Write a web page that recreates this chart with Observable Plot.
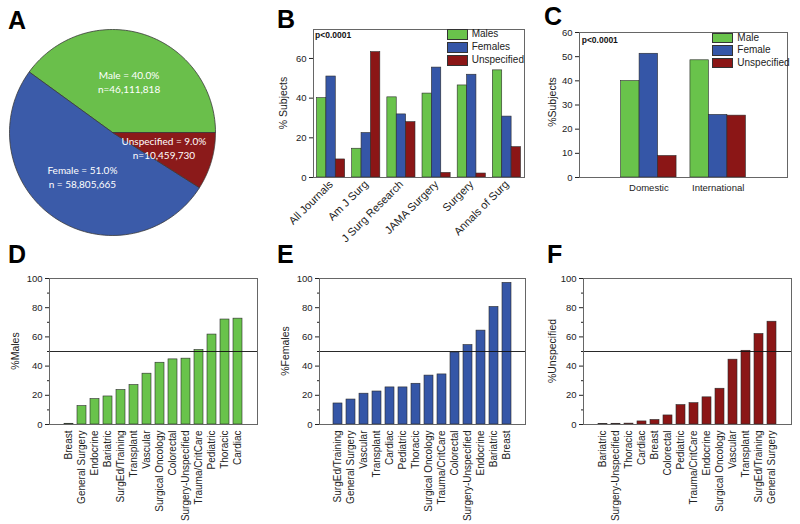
<!DOCTYPE html>
<html>
<head>
<meta charset="utf-8">
<script src="https://cdn.jsdelivr.net/npm/d3@7"></script>
<script src="https://cdn.jsdelivr.net/npm/@observablehq/plot@0.6"></script>
<style>
  body { margin: 0; background: #fff; }
  #root { position: relative; width: 800px; height: 524px; overflow: hidden; background: #fff;
          font-family: "Liberation Sans", Arial, sans-serif; color: #222; }
  .letter { position: absolute; font-weight: bold; font-size: 25px; line-height: 1; color: #000; }
  .ylab { position: absolute; font-size: 10.5px; line-height: 1; white-space: nowrap;
          transform: translate(-50%, -50%) rotate(-90deg); }
  .pval { position: absolute; font-weight: bold; font-size: 8.5px; line-height: 1; color: #111; }
  .lgbox { position: absolute; box-sizing: border-box; border: 0.8px solid #333; }
  .lgtxt { position: absolute; font-size: 10px; white-space: nowrap; color: #222; }
</style>
</head>
<body>
<div id="root"></div>
<script>
// ---------------- data ----------------
const pieLabels = ["Male", "Female", "Unspecified"];
const pieShares = [40.0, 51.0, 9.0];
const pieCountText = ["n=46,111,818", "n = 58,805,665", "n=10,459,730"];
const pieColors = ["#6abf4b", "#3b5ba9", "#8b1a1a"];

const journals = ["All Journals", "Am J Surg", "J Surg Research", "JAMA Surgery", "Surgery", "Annals of Surg"];
const journalSeries = ["Males", "Females", "Unspecified"];
const journalMales = [40.0, 14.5, 40.4, 42.3, 46.4, 54.0];
const journalFemales = [50.9, 22.4, 31.8, 55.4, 51.8, 30.7];
const journalUnspecified = [9.1, 63.2, 27.9, 2.3, 2.0, 15.3];

const origins = ["Domestic", "International"];
const originSeries = ["Male", "Female", "Unspecified"];
const originMale = [39.9, 48.5];
const originFemale = [51.2, 25.9];
const originUnspecified = [8.9, 25.6];

const maleSpecialties = ["Breast", "General Surgery", "Endocrine", "Bariatric", "SurgEd/Training", "Transplant", "Vascular", "Surgical Oncology", "Colorectal", "Surgery-Unspecified", "Trauma/CritCare", "Pediatric", "Thoracic", "Cardiac"];
const maleValues = [0.5, 12.6, 17.4, 19.2, 23.6, 27.0, 34.8, 42.3, 44.6, 45.1, 51.0, 61.6, 71.9, 72.5];

const femaleSpecialties = ["SurgEd/Training", "General Surgery", "Vascular", "Transplant", "Cardiac", "Pediatric", "Thoracic", "Surgical Oncology", "Trauma/CritCare", "Colorectal", "Surgery-Unspecified", "Endocrine", "Bariatric", "Breast"];
const femaleValues = [14.4, 17.1, 21.1, 22.6, 25.4, 25.4, 27.9, 33.5, 34.3, 49.3, 54.4, 64.3, 80.5, 97.0];

const unspecSpecialties = ["Bariatric", "Surgery-Unspecified", "Thoracic", "Cardiac", "Breast", "Colorectal", "Pediatric", "Trauma/CritCare", "Endocrine", "Surgical Oncology", "Vascular", "Transplant", "SurgEd/Training", "General Surgery"];
const unspecValues = [0.3, 0.5, 0.6, 2.1, 3.1, 6.2, 13.3, 14.6, 18.6, 24.5, 44.4, 50.5, 62.0, 70.4];

const barColors = ["#69c34b", "#3556a7", "#8b1616"];
const pText = "p<0.0001";
const refLine = 50;

// ---------------- helpers ----------------
const root = document.getElementById("root");
const FONT = '"Liberation Sans", Arial, sans-serif';

function mount(svg, left, top) {
  svg.style.position = "absolute";
  svg.style.left = left + "px";
  svg.style.top = top + "px";
  svg.style.background = "transparent";
  svg.style.overflow = "visible";
  svg.style.maxWidth = "none";
  root.appendChild(svg);
}
function div(cls, text, css) {
  const el = document.createElement("div");
  el.className = cls;
  if (text != null) el.textContent = text;
  Object.assign(el.style, css);
  root.appendChild(el);
  return el;
}
function legend(names, colors, boxLeft, top, rowStep, textLeft) {
  names.forEach((n, i) => {
    div("lgbox", null, {left: boxLeft + "px", top: (top + i * rowStep) + "px", width: "21.5px", height: "10.8px", background: colors[i]});
    div("lgtxt", n, {left: textLeft + "px", top: (top + i * rowStep) + "px", lineHeight: "10.8px"});
  });
}

// ---------------- A: pie ----------------
const arcs = d3.pie().sort(null).startAngle(Math.PI / 2).endAngle(Math.PI / 2 - 2 * Math.PI)(pieShares);
const piePts = [];
const pieText = [];
arcs.forEach((a, i) => {
  const N = 80;
  piePts.push({label: pieLabels[i], x: 0, y: 0});
  for (let k = 0; k <= N; k++) {
    const t = a.startAngle + (a.endAngle - a.startAngle) * k / N;
    piePts.push({label: pieLabels[i], x: Math.sin(t), y: Math.cos(t)});
  }
  piePts.push({label: pieLabels[i], x: 0, y: 0});
  const mid = (a.startAngle + a.endAngle) / 2;
  const r = 0.52;
  pieText.push({x: r * Math.sin(mid), y: r * Math.cos(mid),
    text: `${pieLabels[i]} = ${pieShares[i].toFixed(1)}%\n${pieCountText[i]}`});
});
mount(Plot.plot({
  width: 230, height: 240,
  marginLeft: 9, marginRight: 15, marginTop: 29, marginBottom: 5,
  x: {domain: [-1, 1], axis: null},
  y: {domain: [-1, 1], axis: null},
  color: {domain: pieLabels, range: pieColors},
  marks: [
    Plot.line(piePts, {x: "x", y: "y", z: "label", fill: "label", stroke: "#3a3a3a", strokeWidth: 0.8, strokeLinejoin: "round"}),
    Plot.text(pieText, {x: "x", y: "y", text: "text", fill: "white", fontSize: 10, fontFamily: "Lato", lineHeight: 1.35})
  ]
}), 0, 0);

// ---------------- grouped bar helper (B, C) ----------------
function groupedPlot({groups, series, cols, width, height, margins, xDomain, yDomain, yTicks, rotate, fontSize}) {
  const gw = 0.8, bw = gw / series.length;
  const rows = groups.flatMap((g, i) => series.map((s, j) => ({
    series: s, value: cols[j][i],
    x1: i - gw / 2 + j * bw, x2: i - gw / 2 + (j + 1) * bw
  })));
  return Plot.plot({
    width, height,
    marginLeft: margins[0], marginRight: margins[1], marginTop: margins[2], marginBottom: margins[3],
    style: {fontFamily: FONT, fontSize: "9.5px", color: "#222"},
    x: {type: "linear", domain: xDomain, label: null},
    y: {domain: yDomain, label: null},
    color: {domain: series, range: barColors},
    marks: [
      Plot.rectY(rows, {x1: "x1", x2: "x2", y: "value", fill: "series", stroke: "#2a2a2a", strokeWidth: 0.6}),
      Plot.axisY({ticks: yTicks, tickSize: 4, tickPadding: 3, label: null}),
      Plot.axisX({ticks: d3.range(groups.length), tickFormat: i => groups[i], tickRotate: rotate,
                  tickSize: 0, tickPadding: rotate ? 5 : 7, label: null, fontSize}),
      Plot.frame({stroke: "#666"})
    ]
  });
}

// ---------------- B ----------------
mount(groupedPlot({
  groups: journals, series: journalSeries, cols: [journalMales, journalFemales, journalUnspecified],
  width: 270, height: 240, margins: [43, 16, 29, 63],
  xDomain: [-0.5, journals.length - 0.5], yDomain: [0, 74.6], yTicks: [0, 20, 40, 60], rotate: -45, fontSize: 11
}), 270, 0);

// ---------------- C ----------------
mount(groupedPlot({
  groups: origins, series: originSeries, cols: [originMale, originFemale, originUnspecified],
  width: 260, height: 240, margins: [39, 13, 32, 63],
  xDomain: [-1, origins.length], yDomain: [0, 60], yTicks: [0, 10, 20, 30, 40, 50, 60], rotate: 0, fontSize: 9.5
}), 540, 0);

// ---------------- D/E/F: sorted specialty bars ----------------
function specialtyPlot(names, values, color, ml, mr) {
  const rows = names.map((n, i) => ({name: n, value: values[i]}));
  return Plot.plot({
    width: 270, height: 284,
    marginLeft: ml, marginRight: mr, marginTop: 38, marginBottom: 100,
    style: {fontFamily: FONT, fontSize: "9.5px", color: "#222"},
    x: {domain: names, paddingInner: 0.32, paddingOuter: 0.78, label: null},
    y: {domain: [0, 100], label: null},
    marks: [
      Plot.barY(rows, {x: "name", y: "value", fill: color, stroke: "#2a2a2a", strokeWidth: 0.6}),
      Plot.ruleY([refLine], {stroke: "#111", strokeWidth: 0.9}),
      Plot.axisY({ticks: [0, 20, 40, 60, 80, 100], tickSize: 4, tickPadding: 3, label: null}),
      Plot.axisY({ticks: [10, 30, 50, 70, 90], tickSize: 2, tickFormat: () => "", label: null}),
      Plot.axisX({tickRotate: -90, tickSize: 0, tickPadding: 6, label: null, fontSize: 10}),
      Plot.frame({stroke: "#666"})
    ]
  });
}
mount(specialtyPlot(maleSpecialties, maleValues, barColors[0], 49, 13), 0, 240);
mount(specialtyPlot(femaleSpecialties, femaleValues, barColors[1], 49, 15), 270, 240);
mount(specialtyPlot(unspecSpecialties, unspecValues, barColors[2], 43, 19), 540, 240);

// ---------------- annotations ----------------
[["A", 8, 8.4], ["B", 277, 6.7], ["C", 544, 3.5], ["D", 8, 241.7], ["E", 277, 241.7], ["F", 547, 241.7]]
  .forEach(([t, x, y]) => div("letter", t, {left: x + "px", top: y + "px"}));

[["% Subjects", 283.3, 103.3], ["%Subjects", 552, 102], ["%Males", 15, 351], ["%Females", 285, 351], ["%Unspecified", 551.7, 351]]
  .forEach(([t, x, y]) => div("ylab", t, {left: x + "px", top: y + "px"}));

div("pval", pText, {left: "315px", top: "31.2px"});
div("pval", pText, {left: "581.7px", top: "36.2px"});

legend(journalSeries, barColors, 446.7, 29.3, 12.8, 471.7);
legend(originSeries, barColors, 711.7, 32.7, 12.4, 737.3);
</script>
</body>
</html>
